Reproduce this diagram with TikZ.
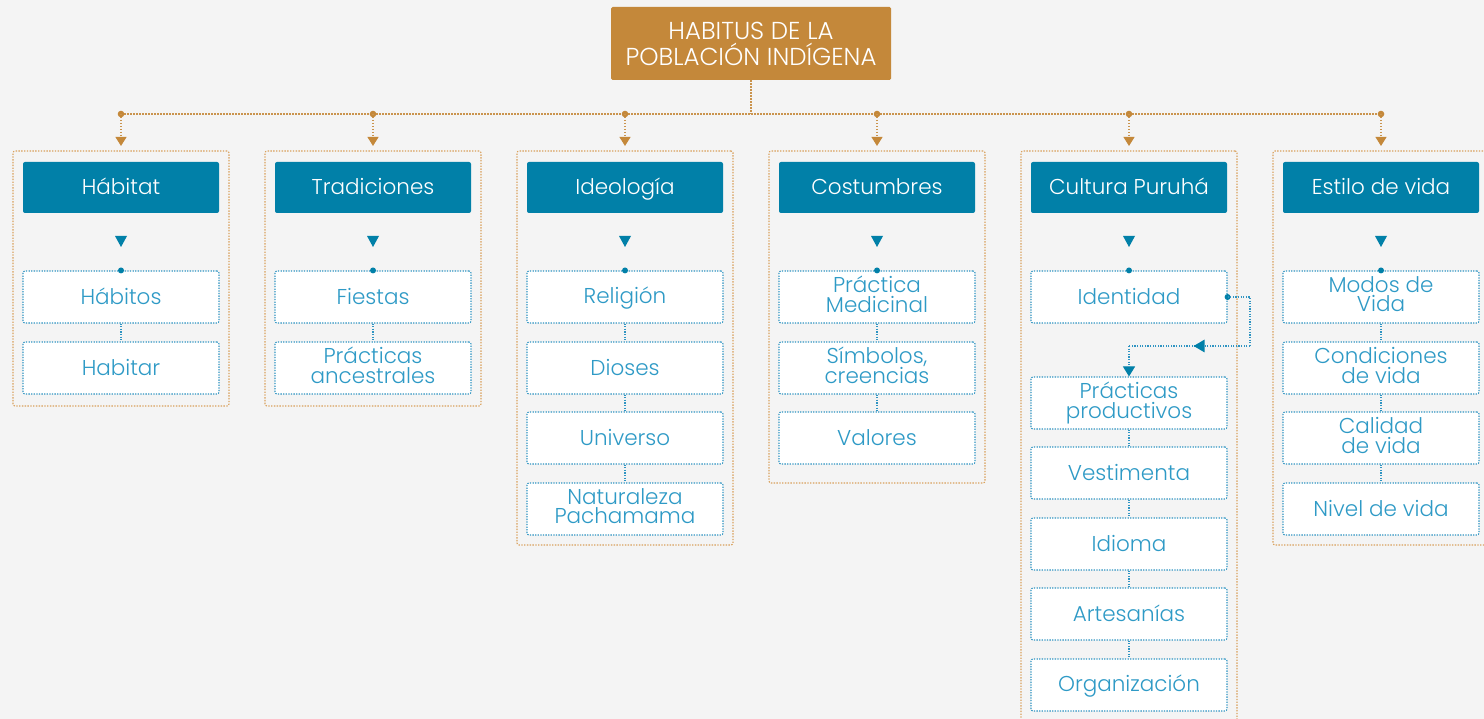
\documentclass[tikz,border=0pt]{standalone}
\usepackage{fontspec}
\IfFontExistsTF{Poppins Light}{\setmainfont{Poppins Light}}{\setmainfont{Poppins}}
\usetikzlibrary{arrows.meta,decorations.markings}
\definecolor{bg}{HTML}{F4F4F4}
\definecolor{gold}{HTML}{C4883A}
\definecolor{goldl}{HTML}{D9A15C}
\definecolor{hblue}{HTML}{0180A8}
\definecolor{cblue}{HTML}{2E9AC6}
\definecolor{cbord}{HTML}{2F94C2}
\tikzset{
  titlebox/.style={fill=gold,text=white,minimum width=280pt,minimum height=73pt,inner sep=0pt,rounded corners=1.5pt,align=center,font=\fontsize{24.5}{26}\selectfont},
  headbox/.style={fill=hblue,text=white,minimum width=196pt,minimum height=51pt,inner sep=0pt,rounded corners=2pt,font=\fontsize{21.5}{20}\selectfont,execute at begin node=\vphantom{Á},execute at end node=\vphantom{p}},
  childbox/.style={draw=cbord,fill=white,dash pattern=on 1.3pt off 1.3pt,line width=1.1pt,text=cblue,minimum width=196pt,minimum height=52pt,inner sep=0pt,rounded corners=2pt,align=center,font=\fontsize{21.5}{19.5}\selectfont,execute at begin node=\vphantom{Á},execute at end node=\vphantom{p}},
  twoline/.style={execute at begin node=\vphantom{Á}\rule{0pt}{30pt}},
  outerbox/.style={draw=goldl,dash pattern=on 1.4pt off 1.4pt,line width=1.1pt,minimum width=216pt,inner sep=0pt,rounded corners=2pt},
  gline/.style={draw=gold!90,dash pattern=on 1.5pt off 1.5pt,line width=1.1pt},
  garrow/.style={gline,-{Triangle[width=11pt,length=9pt,color=gold,fill=gold]}},
  cline/.style={draw=cbord,dash pattern=on 1.3pt off 1.3pt,line width=1.1pt},
  carrow/.style={cline,-{Triangle[width=12pt,length=10pt,color=hblue,fill=hblue]}},
}
\begin{document}
\begin{tikzpicture}[x=1pt,y=-1pt]
\fill[bg] (0,0) rectangle (1484,719);
\useasboundingbox (0,0) rectangle (1484,719);

% outer columns
\node[outerbox,minimum height=255pt] (o1) at (121,278.5) {};
\node[outerbox,minimum height=255pt] (o2) at (373,278.5) {};
\node[outerbox,minimum height=394pt] (o3) at (625,348) {};
\node[outerbox,minimum height=332pt] (o4) at (877,317) {};
\node[outerbox,minimum height=600pt] (o5) at (1129,451) {};
\node[outerbox,minimum height=394pt,minimum width=240pt] (o6) at (1393,348) {};

% title and bus
\node[titlebox] (title) at (751,43.5) {HABITUS DE LA\\POBLACIÓN INDÍGENA};
\coordinate (b1) at (121,114);
\coordinate (b2) at (373,114);
\coordinate (b3) at (625,114);
\coordinate (b4) at (877,114);
\coordinate (b5) at (1129,114);
\coordinate (b6) at (1381,114);
\draw[gline] (title.south) -- (title.south |- b1);
\draw[gline] (b1) -- (b6);
\foreach \i in {1,...,6}{
  \fill[gold] (b\i) circle (3.3pt);
  \draw[garrow] (b\i) -- ([yshift=4.5pt]b\i |- o\i.north);
}

% headers
\node[headbox] (h1) at (121,187.5) {Hábitat};
\node[headbox] (h2) at (373,187.5) {Tradiciones};
\node[headbox] (h3) at (625,187.5) {Ideología};
\node[headbox] (h4) at (877,187.5) {Costumbres};
\node[headbox] (h5) at (1129,187.5) {Cultura Puruhá};
\node[headbox] (h6) at (1381,187.5) {Estilo de vida};
\foreach \x in {121,373,625,877,1129,1381}{
  \fill[hblue] (\x-6,236) -- (\x+6,236) -- (\x,247) -- cycle;
}

% column 1
\node[childbox] (a1) at (121,297) {Hábitos};
\node[childbox] (a2) at (121,368) {Habitar};
% column 2
\node[childbox] (t1) at (373,297) {Fiestas};
\node[childbox,twoline] (t2) at (373,368) {Prácticas\\ancestrales};
% column 3
\node[childbox] (i1) at (625,297) {Religión};
\node[childbox] (i2) at (625,368) {Dioses};
\node[childbox] (i3) at (625,438) {Universo};
\node[childbox,twoline] (i4) at (625,509) {Naturaleza\\Pachamama};
% column 4
\node[childbox,twoline] (c1) at (877,297) {Práctica\\Medicinal};
\node[childbox,twoline] (c2) at (877,368) {Símbolos,\\creencias};
\node[childbox] (c3) at (877,438) {Valores};
% column 5
\node[childbox] (p1) at (1129,297) {Identidad};
\node[childbox,twoline] (p2) at (1129,403) {Prácticas\\productivos};
\node[childbox] (p3) at (1129,473) {Vestimenta};
\node[childbox] (p4) at (1129,544) {Idioma};
\node[childbox] (p5) at (1129,614) {Artesanías};
\node[childbox] (p6) at (1129,685) {Organización};
% column 6
\node[childbox,twoline] (e1) at (1381,297) {Modos de\\Vida};
\node[childbox,twoline] (e2) at (1381,368) {Condiciones\\de vida};
\node[childbox,twoline] (e3) at (1381,438) {Calidad\\de vida};
\node[childbox] (e4) at (1381,509) {Nivel de vida};

% child connectors
\draw[cline] (a1) -- (a2);
\draw[cline] (t1) -- (t2);
\draw[cline] (i1) -- (i2);
\draw[cline] (i2) -- (i3);
\draw[cline] (i3) -- (i4);
\draw[cline] (c1) -- (c2);
\draw[cline] (c2) -- (c3);
\draw[cline] (p2) -- (p3);
\draw[cline] (p3) -- (p4);
\draw[cline] (p4) -- (p5);
\draw[cline] (p5) -- (p6);
\draw[cline] (e1) -- (e2);
\draw[cline] (e2) -- (e3);
\draw[cline] (e3) -- (e4);
\foreach \n in {a1,t1,i1,c1,p1,e1}{
  \fill[hblue] (\n.north) circle (3pt);
}

% loop in column 5
\coordinate (l1) at (1250,297);
\coordinate (l2) at (1250,346);
\coordinate (l3) at (1129,346);
\fill[hblue] (p1.east) circle (3pt);
\draw[cline] (p1.east) -- (l1) -- (l2);
\draw[cline,postaction={decorate},decoration={markings,mark=at position 0.42 with {\fill[hblue] (5.5,0) -- (-5.5,6.5) -- (-5.5,-6.5) -- cycle;}}] (l2) -- (l3);
\draw[carrow] (l3) -- (p2.north);
\end{tikzpicture}
\end{document}
